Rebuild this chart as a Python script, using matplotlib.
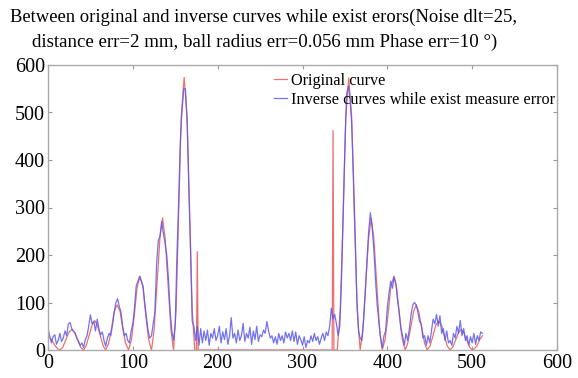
import matplotlib
matplotlib.use("Agg")
import matplotlib.pyplot as plt
import numpy as np

title_lines = ["Between original and inverse curves while exist erors(Noise dlt=25,",
               "distance err=2 mm, ball radius err=0.056 mm Phase err=10 \u00b0)"]
legend_labels = ["Original curve", "Inverse curves while exist measure error"]
x_ticks = [0, 100, 200, 300, 400, 500, 600]
y_ticks = [0, 100, 200, 300, 400, 500, 600]

orig_x = [0, 4, 8, 11, 14, 17.5, 21, 24.5, 28, 31.5, 35, 38.5, 42, 45, 48.5, 52, 55, 58, 61.5, 65, 68,
          71.5, 75, 78, 81.5, 85, 88, 91.5, 95, 98.5, 102, 105, 108.5, 112, 115, 118.5, 122,
          125, 128.5, 132, 135, 138, 141.5, 145, 148, 151, 154, 157, 160.5, 164, 167, 170, 173,
          175, 176, 177, 178, 335, 336, 337, 341,
          344.5, 348, 351, 354.5, 358, 361, 364.5, 368, 371, 374.5, 378, 381, 384, 387.5, 391, 394,
          397.5, 401, 404, 407.5, 411, 414, 417.5, 421, 424, 427.5, 431, 434, 437, 440.5, 444, 447,
          450.5, 454, 457, 460.5, 464, 467, 470.5, 474, 477, 480.5, 484, 487, 490, 493.5, 497, 500,
          503, 506, 509, 512]
orig_y = [30, 22, 10, 3, 0, 6, 21, 37, 43, 37, 21, 6, 0, 9, 31, 53, 62, 53, 31, 9, 0,
          14, 47, 81, 95, 81, 47, 14, 0, 23, 77, 132, 155, 132, 77, 23, 0,
          41, 139, 237, 278, 237, 139, 41, 0, 84, 287, 490, 574, 490, 287, 84, 0,
          0, 207, 0, 0, 0, 462, 0, 0,
          84, 287, 490, 573, 490, 287, 84, 0, 41, 139, 237, 277, 237, 139, 41, 0,
          23, 77, 132, 154, 132, 77, 23, 0, 14, 47, 81, 95, 81, 47, 14, 0,
          9, 31, 52, 61, 52, 31, 9, 0, 6, 21, 37, 43, 37, 21, 6, 0,
          3, 10, 22, 30]

inv_x = list(range(0, 513, 2))
inv_y = [45, 30, 15, 28, 32, 12, 20, 35, 18, 25, 40, 30, 55, 58, 45, 40, 35, 25, 18, 10,
         15, 5, 22, 30, 50, 74, 55, 60, 40, 65, 45, 32, 38, 20, 8, 25, 35, 30, 52, 78,
         100, 108, 92, 80, 50, 30, 35, 20, 15, 40, 55, 90, 135, 145, 155, 145, 135, 100, 70, 40,
         25, 30, 55, 80, 180, 230, 240, 270, 245, 225, 200, 150, 80, 40, 20, 55, 200, 310, 440, 505,
         550, 550, 480, 340, 210, 60, 50, 20, 50, 10,
         45, 15, 40, 20, 42, 10, 35, 25, 45, 20, 30, 50, 15, 38, 22, 45, 12, 30, 68, 25,
         35, 15, 42, 20, 30, 56, 18, 35, 25, 48, 12, 40, 22, 50, 18, 32, 28, 42, 35, 60,
         40, 25, 30, 15, 28, 12, 35, 20, 30, 15, 38, 25, 35, 20, 40, 18, 38, 12, 30, 22,
         10, 28, 5, 20, 15, 30, 18, 35, 20, 28, 12, 25, 35, 20, 38, 30, 50, 88, 65, 75,
         55, 30, 50, 150, 290, 430, 540, 555, 530, 475, 370, 250, 110, 40, 25, 20, 60, 120, 190, 250,
         289, 260, 215, 150, 95, 60, 25, 5, 30, 40, 90, 120, 145, 130, 155, 140, 105, 80, 45, 30,
         10, 35, 20, 45, 75, 95, 100, 95, 80, 60, 55, 25, 30, 10, 30, 15, 40, 65, 55, 75,
         50, 72, 35, 45, 20, 40, 15, 20, 10, 35, 25, 50, 35, 62, 30, 45, 20, 30, 10, 28,
         15, 35, 12, 30, 20, 38, 35]

plt.rcParams['font.family'] = ['Liberation Serif', 'DejaVu Serif']
fig = plt.figure(figsize=(5.78, 3.78), dpi=100)
ax = fig.add_axes([48/578, 1-350/378, (557-48)/578, (350-65)/378])

ax.plot(orig_x, orig_y, color='#ee6f6f', lw=0.9, label=legend_labels[0])
ax.plot(inv_x, inv_y, color='#5a5af0', lw=0.9, alpha=0.85, label=legend_labels[1])

ax.set_xlim(0, 600)
ax.set_ylim(0, 600)
ax.set_xticks(x_ticks)
ax.set_yticks(y_ticks)
ax.tick_params(direction='in', length=3, top=True, right=True, labelsize=14.5,
               colors='#999999', labelcolor='black', pad=2)
ax.tick_params(axis='x', pad=3)
for s in ax.spines.values():
    s.set_color('#aaaaaa')
    s.set_linewidth(1.0)

ax.legend(loc='upper right', bbox_to_anchor=(1.013, 1.0), frameon=False, fontsize=11.7,
          handlelength=0.8, handletextpad=0.3, labelspacing=0.15, borderaxespad=0.1)

fig.text(263/578, 1-17/378, title_lines[0], ha='center', va='center', fontsize=13.4)
fig.text(265/578, 1-42/378, title_lines[1], ha='center', va='center', fontsize=13.6)

fig.savefig('out.png', dpi=100)
